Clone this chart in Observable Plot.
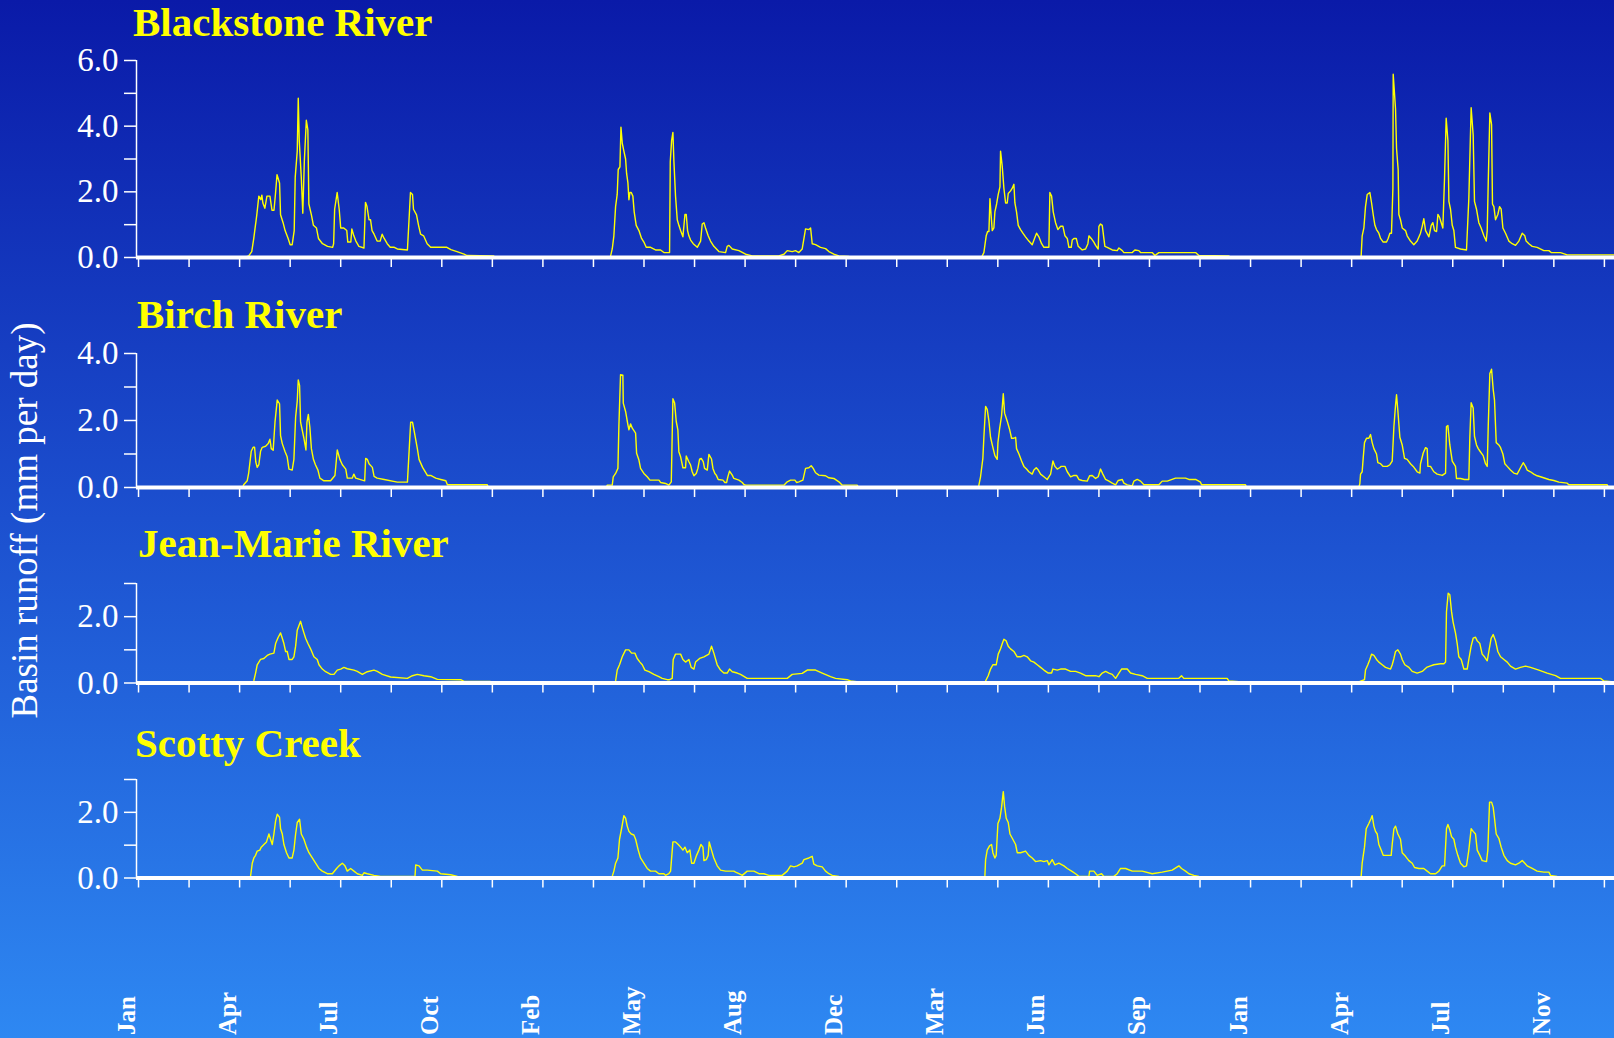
<!DOCTYPE html>
<html>
<head>
<meta charset="utf-8">
<script src="https://cdn.jsdelivr.net/npm/d3@7"></script>
<script src="https://cdn.jsdelivr.net/npm/@observablehq/plot@0.6"></script>
<style>
html, body { margin: 0; padding: 0; background: #1d55d2; }
#chart {
  position: relative; width: 1614px; height: 1038px; overflow: hidden;
  background: linear-gradient(to bottom, #0a1aa8 0%, #1c50cf 50%, #2e88f2 100%);
  font-family: "Liberation Serif", "Times New Roman", serif;
}
.title {
  position: absolute; color: #ffff00; font-weight: bold; font-size: 41px;
  line-height: 40px; white-space: nowrap;
}
.panel { position: absolute; left: 0; }
#ylabel {
  position: absolute; left: -226px; top: 501.5px; width: 500px; height: 37px;
  line-height: 37px; text-align: center; font-size: 37px; color: #ffffff;
  transform: rotate(-90deg); white-space: nowrap;
}
</style>
</head>
<body>
<div id="chart"></div>
<script>
// ---------------- data (day number, runoff in mm per day) ----------------
const rivers = ["Blackstone River", "Birch River", "Jean-Marie River", "Scotty Creek"];
const yMax = [6, 4, 3, 3];
const xTickDays = d3.range(0, 1451, 50);
const labelDays = [0, 100, 200, 300, 400, 500, 600, 700, 800, 900, 1000, 1100, 1200, 1300, 1400];
const monthLabels = ["Jan", "Apr", "Jul", "Oct", "Feb", "May", "Aug", "Dec", "Mar", "Jun", "Sep", "Jan", "Apr", "Jul", "Nov"];
const yAxisTitle = "Basin runoff (mm per day)";

const blackstone = [
[0,0],[105,0],[109,0.05],[112,0.18],[114,0.58],[117,1.3],[119,1.87],[121,1.76],[122,1.9],[123,1.66],[125,1.5],[127,1.87],[130,1.87],[132,1.44],[134,1.44],[135.5,1.95],[137,2.52],[139.5,2.27],[140.5,1.3],[143,1.06],[145,0.82],[148,0.58],[150,0.39],[152,0.39],[154,0.82],[155,2.44],[157,3.24],[158,4.85],[159,3.56],[161,2.44],[162.5,1.35],[164,2.92],[166,4.18],[167.5,3.89],[168.5,1.63],[171,1.3],[173,0.98],[176,0.9],[178,0.58],[182,0.42],[187,0.34],[192,0.31],[193,0.42],[194,1.47],[196.5,1.98],[198.5,1.47],[200,0.9],[203,0.9],[206,0.82],[207,0.47],[210,0.47],[211,0.87],[213,0.66],[215,0.5],[218,0.34],[223,0.29],[224.5,1.68],[226,1.55],[228,1.15],[229.5,1.15],[231,0.82],[233,0.71],[236,0.5],[239,0.5],[241,0.71],[243,0.58],[246,0.42],[249,0.31],[253,0.31],[256,0.26],[266,0.23],[269,1.98],[271,1.92],[272,1.47],[275,1.3],[277,0.98],[279,0.71],[282,0.66],[285.5,0.42],[289,0.31],[305,0.31],[309,0.24],[315,0.18],[322,0.1],[325,0.06],[351,0.05],[353,0],
[466,0],[467,0.05],[468.6,0.26],[470.2,0.66],[471.9,1.55],[473.5,1.92],[474.5,2.68],[476.2,2.76],[477.2,3.97],[478.5,3.48],[480.1,3.24],[481.8,3.0],[482.8,2.56],[484.1,2.27],[485.1,1.76],[486.1,1.98],[487.4,1.98],[489,1.87],[490.3,1.39],[492.3,0.98],[495,0.82],[497.6,0.58],[499.9,0.47],[502.2,0.31],[506.5,0.31],[511.4,0.23],[516.4,0.23],[519.7,0.15],[525.3,0.15],[526,2.92],[527.3,3.56],[528.6,3.81],[529.6,2.92],[531.2,1.87],[532.9,1.15],[534.5,0.98],[536.2,0.82],[538.5,0.63],[540.5,1.31],[541.8,1.31],[543.1,0.82],[544.4,0.66],[546.1,0.53],[548.7,0.42],[552.7,0.31],[556,0.5],[557.6,1.02],[559.3,1.06],[560.9,0.9],[563.5,0.66],[565.8,0.5],[569.1,0.34],[574.1,0.18],[580.7,0.15],[582.3,0.34],[584,0.37],[587.3,0.26],[593.9,0.21],[600.5,0.1],[607.1,0.05],[633.4,0.05],[638.4,0.1],[641.7,0.21],[646.6,0.18],[649.9,0.21],[653.2,0.15],[656.5,0.26],[659.8,0.87],[663.1,0.85],[664.8,0.9],[666.4,0.42],[669.7,0.39],[674.6,0.31],[679.6,0.27],[682.9,0.18],[687.8,0.1],[692.8,0.05],[702.7,0.03],[704,0],
[834,0],[834.6,0.05],[836.2,0.15],[838.5,0.66],[839.9,0.79],[841.2,0.79],[842.2,1.79],[843.5,1.23],[844.5,0.82],[846.1,0.9],[847.1,1.39],[848.8,1.63],[850.4,1.92],[852.1,2.15],[852.7,3.24],[854.4,2.76],[856,2.11],[857.7,1.66],[859.3,1.66],[860.3,1.95],[862.6,2.03],[864.3,2.11],[865.9,2.23],[866.9,1.66],[868.5,1.39],[870.2,0.98],[872.5,0.85],[874.8,0.74],[877.4,0.63],[880.7,0.5],[884,0.39],[886.3,0.58],[888.3,0.74],[890.6,0.63],[893.3,0.42],[895.6,0.31],[900.5,0.31],[901.5,1.98],[903.2,1.87],[904.8,1.39],[907.1,1.06],[909.4,0.85],[912.1,0.95],[914.4,0.95],[916.4,0.66],[918.7,0.58],[920.3,0.31],[922.6,0.31],[923.6,0.53],[925.3,0.58],[927.6,0.58],[929.5,0.34],[933.5,0.23],[936.8,0.26],[939.1,0.42],[940.1,0.66],[942.4,0.58],[945,0.47],[946.7,0.37],[949.3,0.26],[950,0.95],[951.6,1.02],[953.3,0.98],[954.9,0.58],[955.9,0.34],[958.2,0.31],[963.2,0.23],[968.1,0.21],[969.8,0.29],[973.1,0.21],[974.7,0.15],[983,0.15],[985.6,0.23],[989.5,0.21],[991.2,0.15],[1002.7,0.15],[1005.4,0.06],[1009.3,0.15],[1045.6,0.15],[1048.9,0.06],[1078.6,0.05],[1080,0],
[1209,0],[1209.4,0.05],[1210.4,0.66],[1212.1,0.9],[1213.7,1.55],[1215.4,1.92],[1218,1.98],[1219.7,1.66],[1221.3,1.31],[1223,0.98],[1224.6,0.85],[1226.9,0.74],[1228.6,0.58],[1231.2,0.47],[1234.5,0.47],[1236.1,0.58],[1237.8,0.74],[1239.4,0.74],[1240.8,2.11],[1241.1,5.58],[1243.4,4.53],[1244.4,3.32],[1246,2.68],[1246.7,1.31],[1248.3,1.15],[1250,0.9],[1253.3,0.82],[1254.9,0.66],[1258.2,0.5],[1261.5,0.39],[1264.8,0.5],[1268.1,0.74],[1269.8,0.95],[1271.4,1.18],[1273.1,0.82],[1275.4,0.69],[1276.4,0.63],[1278.7,0.98],[1280.3,1.06],[1282,0.82],[1284,0.79],[1285.3,1.31],[1286.9,1.23],[1288.6,1.06],[1290.2,0.9],[1291.9,2.44],[1293.5,4.24],[1295.2,3.56],[1296.2,1.71],[1297.8,1.47],[1299.5,0.98],[1301.1,0.82],[1302.7,0.31],[1307.7,0.26],[1313.6,0.23],[1315.9,1.79],[1318.2,4.56],[1320.2,3.73],[1321.5,1.71],[1323.5,1.47],[1325.8,1.06],[1328.1,0.9],[1330.8,0.66],[1333.1,0.5],[1334.1,0.82],[1335.1,2.27],[1336.7,4.4],[1338.4,4.05],[1339.3,1.63],[1340.7,1.55],[1342.3,1.15],[1344.6,1.31],[1346.3,1.55],[1347.9,1.47],[1349.6,0.9],[1352.2,0.74],[1355.5,0.5],[1358.8,0.42],[1362.1,0.37],[1365.4,0.5],[1368.7,0.74],[1371.3,0.66],[1372.6,0.5],[1375.3,0.42],[1378.6,0.34],[1383.5,0.31],[1390.1,0.21],[1395.1,0.21],[1397.4,0.15],[1400,0.15],[1406.6,0.15],[1413.2,0.08],[1460,0.08]
];

const birch = [
[0,0],[103,0],[104,0.08],[107.5,0.2],[109,0.44],[111.5,1.08],[113.4,1.2],[114.8,1.2],[116,0.76],[117.4,0.6],[119,0.68],[120.7,1.08],[122.4,1.2],[125.7,1.23],[128.3,1.31],[130,1.44],[131.3,1.16],[133.2,1.11],[135,1.95],[137.2,2.61],[139.5,2.5],[140.5,1.55],[142.2,1.31],[144.8,1.08],[147,0.92],[148.8,0.55],[152,0.52],[153.7,0.84],[155.4,2.1],[157,2.58],[158,3.21],[159.3,3.05],[160.3,1.95],[163.6,1.47],[165.6,1.12],[166.6,1.95],[168,2.18],[169.5,1.79],[171,1.16],[173,0.84],[175,0.68],[177.5,0.52],[179.4,0.28],[183.4,0.2],[190,0.2],[194.3,0.36],[196.6,1.12],[199.2,0.84],[201.6,0.68],[205,0.55],[206.5,0.28],[211.5,0.28],[213,0.4],[214.8,0.28],[223.7,0.2],[224.7,0.87],[226.3,0.84],[228,0.71],[231.3,0.6],[233,0.33],[236,0.28],[243,0.24],[256,0.16],[266,0.16],[269.2,1.95],[271,1.95],[273,1.63],[275.8,1.16],[277.5,0.84],[281,0.6],[285.7,0.36],[289,0.36],[294,0.28],[299,0.24],[304,0.2],[305.5,0.08],[345,0.08],[346,0],
[463,0],[463.6,0.07],[468.6,0.07],[469.6,0.32],[471.9,0.42],[474.2,0.57],[475.2,1.87],[476.8,3.37],[479.1,3.35],[479.5,2.52],[481.8,2.27],[484.1,1.87],[485.1,1.72],[486.7,1.9],[488.4,1.77],[491.7,1.62],[492.7,1.02],[495,0.82],[496.6,0.57],[499.9,0.42],[503.2,0.32],[505.9,0.22],[514.8,0.22],[516.4,0.15],[521.3,0.12],[524.6,0.07],[527,0.17],[528.6,2.65],[530.3,2.52],[531.9,1.97],[533.5,1.72],[534.5,1.07],[536.2,0.92],[538.5,0.59],[541.1,0.59],[541.8,0.94],[544.4,0.77],[546.1,0.67],[547.7,0.47],[549.4,0.35],[551.7,0.42],[553.3,0.57],[555,0.85],[556.6,0.87],[558.6,0.77],[559.9,0.57],[562.6,0.52],[564.2,0.99],[566.8,0.85],[568.2,0.57],[570.1,0.42],[571.5,0.37],[573.4,0.24],[578.1,0.22],[580,0.15],[581.7,0.15],[583,0.32],[584.6,0.49],[587.3,0.37],[588.9,0.27],[593.9,0.22],[597.2,0.15],[598.8,0.09],[600.5,0.07],[638.4,0.07],[641.7,0.17],[645,0.22],[649.3,0.22],[650.9,0.15],[653.2,0.17],[657.2,0.22],[659.8,0.57],[663.1,0.59],[665.4,0.65],[667.4,0.57],[669.7,0.44],[673,0.37],[679.6,0.35],[682.9,0.29],[687.8,0.27],[692.8,0.17],[696.1,0.07],[711,0.07],[712,0],
[831,0],[831.3,0.08],[832.9,0.32],[835.2,0.87],[836.2,1.5],[837.9,2.42],[839.5,2.33],[841.2,1.98],[842.8,1.5],[844.5,1.27],[847.1,0.95],[849.4,0.84],[850.1,1.34],[851.7,1.74],[853.7,2.14],[855.4,2.8],[856.7,2.22],[859.3,1.98],[861.6,1.74],[863.6,1.47],[865.9,1.47],[867.6,1.5],[868.5,1.16],[870.9,1.0],[873.5,0.79],[875.8,0.63],[878.4,0.55],[880.7,0.47],[884,0.4],[885.7,0.52],[888,0.59],[890,0.52],[892.3,0.4],[895.6,0.32],[898.9,0.24],[902.2,0.4],[904.5,0.79],[906.5,0.63],[908.8,0.55],[911.1,0.59],[912.7,0.63],[916.4,0.63],[918.7,0.47],[922,0.32],[925.3,0.36],[927.9,0.36],[930.2,0.24],[933.5,0.21],[938.4,0.19],[940.8,0.35],[943.4,0.36],[946.7,0.27],[949.3,0.32],[951.6,0.55],[953.9,0.4],[956.6,0.24],[959.9,0.19],[963.2,0.13],[966.5,0.08],[969.1,0.21],[973.1,0.24],[974.7,0.13],[978,0.08],[983,0.05],[984.6,0.19],[987.9,0.24],[991.2,0.19],[994.5,0.08],[1009.3,0.08],[1012.6,0.19],[1017.6,0.19],[1025.8,0.28],[1035.7,0.28],[1039,0.24],[1045.6,0.24],[1050.5,0.16],[1051.5,0.08],[1095,0.08],[1096,0],
[1207,0],[1208.1,0.11],[1208.8,0.4],[1210.4,0.47],[1211.4,0.87],[1212.7,1.34],[1214.7,1.47],[1217,1.47],[1218.7,1.58],[1220.3,1.34],[1222,1.16],[1224.6,1.0],[1225.9,0.74],[1228.6,0.71],[1231.2,0.63],[1235.2,0.63],[1237.8,0.68],[1240.1,0.79],[1241.8,1.82],[1243.4,2.45],[1244.4,2.77],[1245.7,2.29],[1247.7,1.5],[1250,1.27],[1252.3,0.87],[1254.9,0.84],[1258.2,0.71],[1260.9,0.63],[1264.8,0.47],[1267.5,0.43],[1268.1,0.71],[1270.8,1.03],[1273.1,1.19],[1274.7,1.16],[1275.4,0.63],[1278,0.63],[1281.3,0.47],[1284.6,0.4],[1289.6,0.36],[1292.9,0.43],[1293.8,1.82],[1295.2,1.85],[1297.1,1.27],[1299.5,0.79],[1302.7,0.63],[1303.7,0.27],[1307.7,0.27],[1311.6,0.24],[1315.9,0.24],[1316.9,1.5],[1318.2,2.53],[1320.2,2.37],[1321.5,1.53],[1323.5,1.27],[1325.2,1.16],[1327.5,1.06],[1330.1,0.95],[1332.4,0.71],[1334.1,0.63],[1335.1,1.82],[1336.7,3.4],[1338.4,3.53],[1340,2.93],[1341.3,2.61],[1343,1.34],[1345.6,1.27],[1347.3,1.19],[1349.6,1.0],[1351.5,0.71],[1353.9,0.63],[1357.1,0.52],[1360.4,0.43],[1363.7,0.4],[1367,0.59],[1369.7,0.74],[1372,0.63],[1373.6,0.52],[1376.9,0.47],[1380.2,0.4],[1383.5,0.35],[1386.8,0.32],[1395.1,0.24],[1400,0.21],[1405,0.16],[1413.2,0.13],[1414.8,0.08],[1452.8,0.08],[1454,0],[1460,0]
];

const jeanMarie = [
[0,0],[113,0],[114,0.06],[115.8,0.3],[117.4,0.55],[120.7,0.71],[124,0.74],[127.3,0.83],[130,0.87],[133.9,0.9],[135.6,1.19],[138.2,1.38],[140.5,1.51],[142.2,1.35],[143.8,1.19],[145.5,0.95],[147.1,0.95],[148.8,0.71],[152,0.71],[153.7,0.79],[155.4,1.11],[157,1.59],[160.3,1.86],[162,1.67],[163.6,1.51],[165.3,1.35],[167.6,1.19],[170.2,1.03],[173.5,0.79],[176.8,0.71],[178.5,0.55],[181.8,0.42],[185.1,0.34],[190,0.26],[193.3,0.26],[196.6,0.39],[200,0.42],[203.2,0.47],[206.5,0.43],[213.1,0.39],[216.4,0.35],[221.4,0.26],[226.3,0.34],[232.9,0.39],[236.2,0.35],[241.2,0.26],[249.4,0.18],[265.9,0.14],[270.9,0.22],[275.8,0.26],[282.4,0.22],[289,0.19],[295.6,0.11],[318.7,0.1],[322,0.05],[348,0.05],[349,0],
[471,0],[471.9,0.06],[473.5,0.39],[475.8,0.55],[478.5,0.79],[481.8,1.0],[485.1,1.0],[487.7,0.9],[491,0.9],[493.3,0.74],[496,0.63],[498.3,0.55],[500.9,0.39],[504.9,0.34],[509.8,0.26],[514.7,0.19],[518,0.14],[523,0.1],[525.3,0.1],[527.9,0.14],[528.9,0.71],[531.2,0.87],[536.2,0.87],[538.5,0.71],[541.1,0.63],[544.4,0.71],[546.7,0.47],[549.4,0.42],[551,0.63],[555,0.74],[559.3,0.79],[564.2,0.87],[566.8,1.11],[569.1,0.9],[572.4,0.55],[575.7,0.39],[579,0.3],[582.3,0.3],[584.6,0.42],[587.3,0.34],[592.2,0.3],[595.5,0.26],[602.1,0.14],[641.7,0.14],[646.6,0.26],[656.5,0.29],[661.5,0.39],[669.7,0.39],[676.3,0.3],[684.5,0.19],[689.5,0.14],[701,0.1],[704.3,0.06],[712.6,0.03],[714,0],
[837,0],[837.9,0.06],[840.5,0.22],[842.8,0.42],[845.1,0.55],[848.4,0.55],[850.4,0.87],[852.7,1.03],[854.4,1.19],[856,1.32],[858.3,1.27],[860.3,1.11],[862.6,1.03],[865.9,0.95],[869.2,0.79],[872.5,0.79],[875.8,0.83],[879.1,0.79],[882.4,0.67],[885.7,0.63],[889,0.55],[892.3,0.47],[895.6,0.39],[899.9,0.3],[903.2,0.3],[904.5,0.42],[908.8,0.39],[912.1,0.42],[917,0.42],[922,0.35],[926.9,0.35],[931.8,0.3],[936.8,0.22],[946.7,0.22],[950,0.19],[953.3,0.3],[956.6,0.35],[959.9,0.3],[963.2,0.26],[966.5,0.14],[969.8,0.3],[972.4,0.42],[978,0.42],[981.3,0.3],[986.2,0.26],[992.8,0.22],[997.8,0.14],[1029.1,0.14],[1031.7,0.22],[1034,0.14],[1076.9,0.14],[1078.6,0.06],[1091.7,0.03],[1093,0],
[1207,0],[1207.1,0.03],[1209.4,0.06],[1212.7,0.1],[1213.7,0.39],[1216,0.55],[1218,0.71],[1219.7,0.87],[1222,0.83],[1224.6,0.71],[1226.9,0.63],[1230.2,0.55],[1233.5,0.47],[1238.5,0.42],[1240.1,0.55],[1241.8,0.74],[1243.4,0.95],[1245.7,1.0],[1248.3,0.87],[1250,0.71],[1252.6,0.55],[1256.6,0.47],[1259.9,0.35],[1264.8,0.3],[1269.8,0.35],[1274.1,0.47],[1277.4,0.51],[1281.3,0.55],[1287.9,0.58],[1291.2,0.58],[1292.9,0.63],[1293.8,2.15],[1295.5,2.71],[1297.1,2.66],[1298.8,2.15],[1300.4,1.83],[1302.7,1.51],[1304.4,1.19],[1306,0.79],[1308.4,0.71],[1311,0.42],[1314.3,0.42],[1315.9,0.71],[1318.2,1.11],[1320.2,1.35],[1322.5,1.38],[1324.2,1.27],[1326.8,1.19],[1329.1,0.87],[1331.4,0.79],[1334.1,0.67],[1335.7,0.95],[1338,1.35],[1340,1.46],[1342.3,1.27],[1344.6,0.95],[1347.3,0.79],[1350.6,0.71],[1353.9,0.63],[1357.1,0.51],[1362.1,0.42],[1367,0.47],[1372,0.51],[1376.9,0.47],[1385.2,0.39],[1393.4,0.3],[1401.7,0.22],[1406.6,0.14],[1446.2,0.14],[1449.5,0.06],[1460,0.03]
];

const scotty = [
[0,0],[110,0],[110.8,0.05],[112.5,0.45],[114.1,0.61],[115.8,0.69],[117.4,0.82],[120,0.85],[121.4,0.94],[124,1.02],[126.6,1.1],[129,1.34],[130.6,1.18],[132.3,1.02],[133.9,1.34],[135.6,1.74],[137.2,1.94],[139.5,1.85],[140.5,1.5],[142.2,1.34],[143.8,1.02],[146.4,0.77],[148.8,0.61],[152,0.61],[153.7,0.85],[155.4,1.34],[157,1.69],[159.3,1.79],[161,1.34],[163.6,1.18],[166.2,0.94],[168.6,0.77],[171.9,0.61],[175.2,0.45],[178.5,0.29],[181.8,0.21],[186.7,0.13],[191.7,0.13],[195.9,0.29],[198.3,0.37],[201.6,0.45],[204.2,0.37],[206.5,0.21],[209.8,0.29],[213.1,0.21],[216.4,0.13],[221.4,0.08],[223,0.16],[226.3,0.13],[232.9,0.08],[239.5,0.05],[273.5,0.05],[274.2,0.4],[277.5,0.37],[280.8,0.24],[285.7,0.24],[295.6,0.21],[298.9,0.13],[308.8,0.1],[315.4,0.05],[316,0],
[468,0],[468.6,0.05],[470.2,0.21],[471.9,0.45],[474.2,0.61],[475.8,1.18],[477.8,1.5],[480.1,1.9],[481.8,1.82],[483.4,1.58],[485.1,1.42],[487.4,1.34],[490,1.31],[491.7,1.18],[494.3,0.85],[496.6,0.61],[499.9,0.45],[503.2,0.29],[506.5,0.21],[511.4,0.21],[514.7,0.13],[519.7,0.13],[521.3,0.08],[524.6,0.13],[526.3,0.21],[528.6,1.1],[531.2,1.1],[533.9,1.02],[536.2,0.94],[538.5,0.85],[540.5,0.94],[542.8,0.77],[545.4,0.85],[547.1,0.45],[549.4,0.45],[552,0.69],[554.3,0.85],[556.3,1.02],[558.3,0.94],[559.3,0.53],[561.6,0.56],[563.5,0.69],[564.5,1.1],[566.8,0.85],[569.1,0.61],[572.4,0.37],[575.7,0.24],[580.7,0.21],[588.9,0.21],[590.6,0.18],[593.9,0.13],[597.2,0.08],[602.1,0.21],[608.7,0.21],[613.7,0.13],[618.6,0.13],[623.5,0.08],[636.7,0.08],[641.7,0.21],[645,0.37],[648.3,0.34],[651.6,0.37],[656.5,0.45],[658.2,0.56],[663.1,0.61],[666.4,0.66],[668,0.42],[671.4,0.37],[676.3,0.34],[679.6,0.21],[682.9,0.13],[686.2,0.08],[692.8,0.05],[694,0],
[837,0],[837.2,0.05],[837.9,0.56],[839.5,0.85],[841.8,0.98],[843.8,1.02],[845.1,0.77],[847.1,0.61],[848.4,0.69],[850.1,1.66],[852.1,1.82],[853.7,2.15],[855.4,2.63],[856.7,2.18],[858.3,1.82],[860.3,1.69],[862,1.34],[864.3,1.21],[867.6,1.02],[869.2,0.77],[872.5,0.77],[877.4,0.82],[880.7,0.69],[884,0.61],[887.3,0.5],[892.3,0.53],[895.6,0.5],[898.9,0.53],[900.5,0.4],[903.8,0.56],[906.5,0.4],[910.4,0.45],[915.4,0.37],[918.7,0.29],[923,0.21],[926.9,0.13],[930.2,0.05],[940.1,0.05],[940.8,0.21],[945,0.21],[948.3,0.08],[952.6,0.13],[954.9,0.05],[964.8,0.05],[968.1,0.13],[971.4,0.29],[976.4,0.29],[983,0.21],[992.8,0.21],[1002.7,0.13],[1012.6,0.18],[1022.5,0.24],[1029.1,0.37],[1031.7,0.29],[1035.7,0.21],[1039,0.13],[1043.9,0.08],[1048.9,0.05],[1055.5,0.02],[1056,0],
[1209,0],[1209.4,0.05],[1210.4,0.45],[1212.7,0.94],[1214.4,1.5],[1217,1.66],[1219.3,1.82],[1220.3,1.9],[1222,1.58],[1223.6,1.42],[1225.3,1.34],[1226.9,1.02],[1229.2,0.85],[1231.2,0.69],[1235.2,0.69],[1239.1,0.69],[1240.1,1.02],[1241.8,1.5],[1243.4,1.58],[1245.7,1.34],[1248.3,1.18],[1250,0.77],[1253.3,0.66],[1256.6,0.53],[1259.9,0.45],[1262.2,0.32],[1266.5,0.29],[1271.4,0.29],[1274.7,0.21],[1278,0.13],[1283,0.13],[1286.3,0.21],[1289.6,0.37],[1291.9,0.37],[1293.8,1.5],[1295.2,1.63],[1297.1,1.47],[1298.8,1.26],[1301.1,1.18],[1302.7,0.94],[1305,0.69],[1307.7,0.45],[1311,0.34],[1313.6,0.37],[1315.9,0.85],[1318.2,1.5],[1320.2,1.42],[1322.5,1.34],[1324.2,0.85],[1326.8,0.69],[1329.1,0.53],[1333.4,0.5],[1334.7,0.85],[1336.4,2.31],[1338.4,2.31],[1340,2.15],[1341.3,1.82],[1343,1.34],[1345.6,1.21],[1347.9,0.94],[1350.6,0.69],[1353.9,0.53],[1357.1,0.45],[1362.1,0.4],[1365.4,0.45],[1368.7,0.53],[1371.3,0.45],[1373.6,0.37],[1378.6,0.29],[1383.5,0.21],[1390.1,0.18],[1395.1,0.18],[1396.7,0.08],[1403.3,0.05],[1419.8,0.02],[1421,0],[1460,0]
];

const series = [blackstone, birch, jeanMarie, scotty];

// ---------------- layout ----------------
const W = 1614, H = 1038;
const panelTop = [40, 333, 563, 759];
const panelInner = [197, 134, 99.5, 98.5];
const titlePos = [[133, 1.5], [137, 293.5], [138, 522.5], [135, 722.5]];
const MT = 20;

const chart = document.getElementById("chart");

rivers.forEach((name, i) => {
  const isLast = i === rivers.length - 1;
  const mb = isLast ? H - (panelTop[i] + MT + panelInner[i]) : 20;
  const marks = [
    Plot.line(series[i], {x: d => d[0], y: d => d[1], stroke: "#ffff00", strokeWidth: 1.4}),
    Plot.ruleY([0], {stroke: "#ffffff", strokeWidth: 4}),
    Plot.ruleX([-2], {y1: 0, y2: yMax[i], stroke: "#ffffff", strokeWidth: 1.5}),
    Plot.axisY({
      ticks: d3.range(0, yMax[i] + 1), tickSize: 12, tickPadding: 6,
      tickFormat: d => d % 2 === 0 ? d.toFixed(1) : "",
      label: null, fontSize: 33, strokeWidth: 1.5
    }),
    Plot.axisX({ticks: xTickDays, tickSize: 10, tickFormat: () => "", label: null, strokeWidth: 1.5})
  ];
  if (isLast) {
    marks.push(Plot.text(labelDays, {
      x: d => d, text: (d, j) => monthLabels[j], frameAnchor: "bottom", dy: 157, dx: -4,
      rotate: -90, textAnchor: "start", fill: "#ffffff", fontSize: 25, fontWeight: "bold"
    }));
  }
  const svg = Plot.plot({
    width: W, height: MT + panelInner[i] + mb,
    marginTop: MT, marginBottom: mb, marginLeft: 136, marginRight: 0,
    x: {domain: [-2, 1460]},
    y: {domain: [0, yMax[i]]},
    style: {
      background: "transparent", color: "#ffffff", overflow: "visible",
      fontFamily: "'Liberation Serif', 'Times New Roman', serif", fontSize: "33px"
    },
    marks
  });
  svg.classList.add("panel");
  svg.style.top = panelTop[i] + "px";
  svg.style.position = "absolute";
  svg.style.left = "0px";
  chart.appendChild(svg);

  const t = document.createElement("div");
  t.className = "title";
  t.textContent = name;
  t.style.left = titlePos[i][0] + "px";
  t.style.top = titlePos[i][1] + "px";
  chart.appendChild(t);
});

const yl = document.createElement("div");
yl.id = "ylabel";
yl.textContent = yAxisTitle;
chart.appendChild(yl);
</script>
</body>
</html>
